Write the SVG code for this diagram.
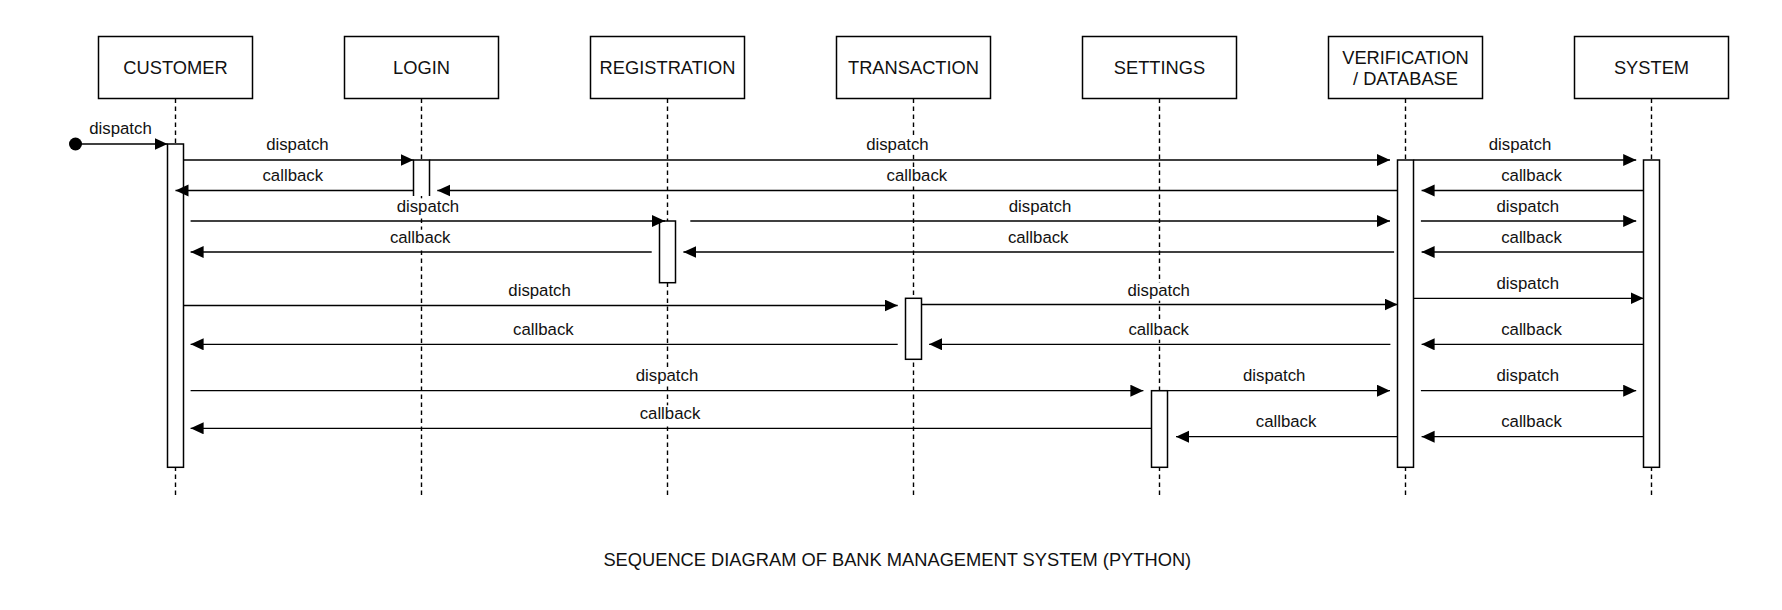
<svg xmlns="http://www.w3.org/2000/svg" width="1782" height="610" viewBox="0 0 1782 610">
<style>
.box{fill:#fff;stroke:#000;stroke-width:1.5}
.life{stroke:#000;stroke-width:1.4;stroke-dasharray:4.5 3.5;fill:none}
.act{fill:#fff;stroke:#000;stroke-width:1.5}
.msg{stroke:#000;stroke-width:1.3;fill:none;marker-end:url(#arr)}
.hd{font-family:"Liberation Sans",Arial,sans-serif;font-size:18.3px;fill:#111;text-anchor:middle}
.lb{font-family:"Liberation Sans",Arial,sans-serif;font-size:16.8px;fill:#111;text-anchor:middle}
.bg{fill:#fff}
</style>
<defs>
<marker id="arr" markerUnits="userSpaceOnUse" markerWidth="14" markerHeight="13" refX="13" refY="6" orient="auto">
<path d="M0,0 L13,6 L0,12 z" fill="#000"/>
</marker>
</defs>
<rect width="1782" height="610" fill="#fff"/>

<g id="customer">
<line class="life" x1="175.5" y1="98.5" x2="175.5" y2="498"/>
<rect class="box" x="98.5" y="36.5" width="154" height="62"/>
<text class="hd" x="175.5" y="74.2">CUSTOMER</text>
<rect class="act" x="167.5" y="144" width="16" height="323.3"/>
</g>
<g id="login">
<line class="life" x1="421.5" y1="98.5" x2="421.5" y2="498"/>
<rect class="box" x="344.5" y="36.5" width="154" height="62"/>
<text class="hd" x="421.5" y="74.2">LOGIN</text>
<rect fill="#fff" x="413.5" y="160" width="16" height="36"/>
<path class="act" fill="none" d="M413.5,196 V160 H429.5 V196"/>
</g>
<g id="registration">
<line class="life" x1="667.5" y1="98.5" x2="667.5" y2="498"/>
<rect class="box" x="590.5" y="36.5" width="154" height="62"/>
<text class="hd" x="667.5" y="74.2">REGISTRATION</text>
<rect class="act" x="659.5" y="221" width="16" height="61.7"/>
</g>
<g id="transaction">
<line class="life" x1="913.5" y1="98.5" x2="913.5" y2="498"/>
<rect class="box" x="836.5" y="36.5" width="154" height="62"/>
<text class="hd" x="913.5" y="74.2">TRANSACTION</text>
<rect class="act" x="905.5" y="298.3" width="16" height="61"/>
</g>
<g id="settings">
<line class="life" x1="1159.5" y1="98.5" x2="1159.5" y2="498"/>
<rect class="box" x="1082.5" y="36.5" width="154" height="62"/>
<text class="hd" x="1159.5" y="74.2">SETTINGS</text>
<rect class="act" x="1151.5" y="390.7" width="16" height="76.6"/>
</g>
<g id="verification">
<line class="life" x1="1405.5" y1="98.5" x2="1405.5" y2="498"/>
<rect class="box" x="1328.5" y="36.5" width="154" height="62"/>
<text class="hd" x="1405.5" y="64.2">VERIFICATION</text>
<text class="hd" x="1405.5" y="84.9">/ DATABASE</text>
<rect class="act" x="1397.5" y="160" width="16" height="307.3"/>
</g>
<g id="system">
<line class="life" x1="1651.5" y1="98.5" x2="1651.5" y2="498"/>
<rect class="box" x="1574.5" y="36.5" width="154" height="62"/>
<text class="hd" x="1651.5" y="74.2">SYSTEM</text>
<rect class="act" x="1643.5" y="160" width="16" height="307.3"/>
</g>

<g id="connectors">
<circle cx="75.5" cy="144" r="6.5" fill="#000"/>
<line class="msg" x1="75.5" y1="144" x2="167.5" y2="144"/>
<line class="msg" x1="183.5" y1="160" x2="413.5" y2="160"/>
<line class="msg" x1="429.5" y1="160" x2="1390" y2="160"/>
<line class="msg" x1="1413.5" y1="160" x2="1636.2" y2="160"/>
<line class="msg" x1="413.5" y1="190.5" x2="175.5" y2="190.5"/>
<line class="msg" x1="1397.5" y1="190.5" x2="437.3" y2="190.5"/>
<line class="msg" x1="1643.5" y1="190.5" x2="1421.6" y2="190.5"/>
<line class="msg" x1="190.6" y1="221" x2="665" y2="221"/>
<line class="msg" x1="690.3" y1="221" x2="1390" y2="221"/>
<line class="msg" x1="1420.9" y1="221" x2="1636.2" y2="221"/>
<line class="msg" x1="651.7" y1="252" x2="190.6" y2="252"/>
<line class="msg" x1="1394.1" y1="252" x2="683.4" y2="252"/>
<line class="msg" x1="1643.5" y1="252" x2="1421.6" y2="252"/>
<line class="msg" x1="183.5" y1="305.5" x2="897.7" y2="305.5"/>
<line class="msg" x1="921.5" y1="304.5" x2="1397.5" y2="304.5"/>
<line class="msg" x1="1413.5" y1="298.3" x2="1643.5" y2="298.3"/>
<line class="msg" x1="897.7" y1="344.3" x2="190.6" y2="344.3"/>
<line class="msg" x1="1390.4" y1="344.3" x2="929.1" y2="344.3"/>
<line class="msg" x1="1643.5" y1="344.3" x2="1421.6" y2="344.3"/>
<line class="msg" x1="190.6" y1="390.7" x2="1143.4" y2="390.7"/>
<line class="msg" x1="1167.5" y1="390.7" x2="1390" y2="390.7"/>
<line class="msg" x1="1420.9" y1="390.7" x2="1636.2" y2="390.7"/>
<line class="msg" x1="1151.5" y1="428.3" x2="190.6" y2="428.3"/>
<line class="msg" x1="1397.5" y1="436.7" x2="1176" y2="436.7"/>
<line class="msg" x1="1643.5" y1="436.7" x2="1421.6" y2="436.7"/>

<rect class="bg" x="88.5" y="121" width="64" height="18"/><text class="lb" x="120.5" y="134.4">dispatch</text>
<rect class="bg" x="265.4" y="136.7" width="64" height="18"/><text class="lb" x="297.4" y="150.1">dispatch</text>
<rect class="bg" x="865.4" y="136.7" width="64" height="18"/><text class="lb" x="897.4" y="150.1">dispatch</text>
<rect class="bg" x="1488" y="136.7" width="64" height="18"/><text class="lb" x="1520" y="150.1">dispatch</text>
<rect class="bg" x="261.3" y="167.7" width="63" height="18"/><text class="lb" x="292.8" y="181.1">callback</text>
<rect class="bg" x="885.4" y="167.7" width="63" height="18"/><text class="lb" x="916.9" y="181.1">callback</text>
<rect class="bg" x="1500" y="167.7" width="63" height="18"/><text class="lb" x="1531.5" y="181.1">callback</text>
<rect class="bg" x="395.9" y="198.3" width="64" height="18"/><text class="lb" x="427.9" y="211.7">dispatch</text>
<rect class="bg" x="1008" y="198.3" width="64" height="18"/><text class="lb" x="1040" y="211.7">dispatch</text>
<rect class="bg" x="1495.8" y="198.3" width="64" height="18"/><text class="lb" x="1527.8" y="211.7">dispatch</text>
<rect class="bg" x="388.7" y="229.7" width="63" height="18"/><text class="lb" x="420.2" y="243.1">callback</text>
<rect class="bg" x="1006.7" y="229.7" width="63" height="18"/><text class="lb" x="1038.2" y="243.1">callback</text>
<rect class="bg" x="1500" y="229.7" width="63" height="18"/><text class="lb" x="1531.5" y="243.1">callback</text>
<rect class="bg" x="507.6" y="282.7" width="64" height="18"/><text class="lb" x="539.6" y="296.1">dispatch</text>
<rect class="bg" x="1126.7" y="282.7" width="64" height="18"/><text class="lb" x="1158.7" y="296.1">dispatch</text>
<rect class="bg" x="1495.8" y="276" width="64" height="18"/><text class="lb" x="1527.8" y="289.4">dispatch</text>
<rect class="bg" x="511.9" y="321.7" width="63" height="18"/><text class="lb" x="543.4" y="335.1">callback</text>
<rect class="bg" x="1127.2" y="321.7" width="63" height="18"/><text class="lb" x="1158.7" y="335.1">callback</text>
<rect class="bg" x="1500" y="321.7" width="63" height="18"/><text class="lb" x="1531.5" y="335.1">callback</text>
<rect class="bg" x="635" y="367.7" width="64" height="18"/><text class="lb" x="667" y="381.1">dispatch</text>
<rect class="bg" x="1242.2" y="367.7" width="64" height="18"/><text class="lb" x="1274.2" y="381.1">dispatch</text>
<rect class="bg" x="1495.8" y="367.7" width="64" height="18"/><text class="lb" x="1527.8" y="381.1">dispatch</text>
<rect class="bg" x="638.5" y="405.3" width="63" height="18"/><text class="lb" x="670" y="418.7">callback</text>
<rect class="bg" x="1254.6" y="413.7" width="63" height="18"/><text class="lb" x="1286.1" y="427.1">callback</text>
<rect class="bg" x="1500" y="413.7" width="63" height="18"/><text class="lb" x="1531.5" y="427.1">callback</text>
</g>

<text class="hd" x="897.3" y="565.6">SEQUENCE DIAGRAM OF BANK MANAGEMENT SYSTEM (PYTHON)</text>
</svg>
